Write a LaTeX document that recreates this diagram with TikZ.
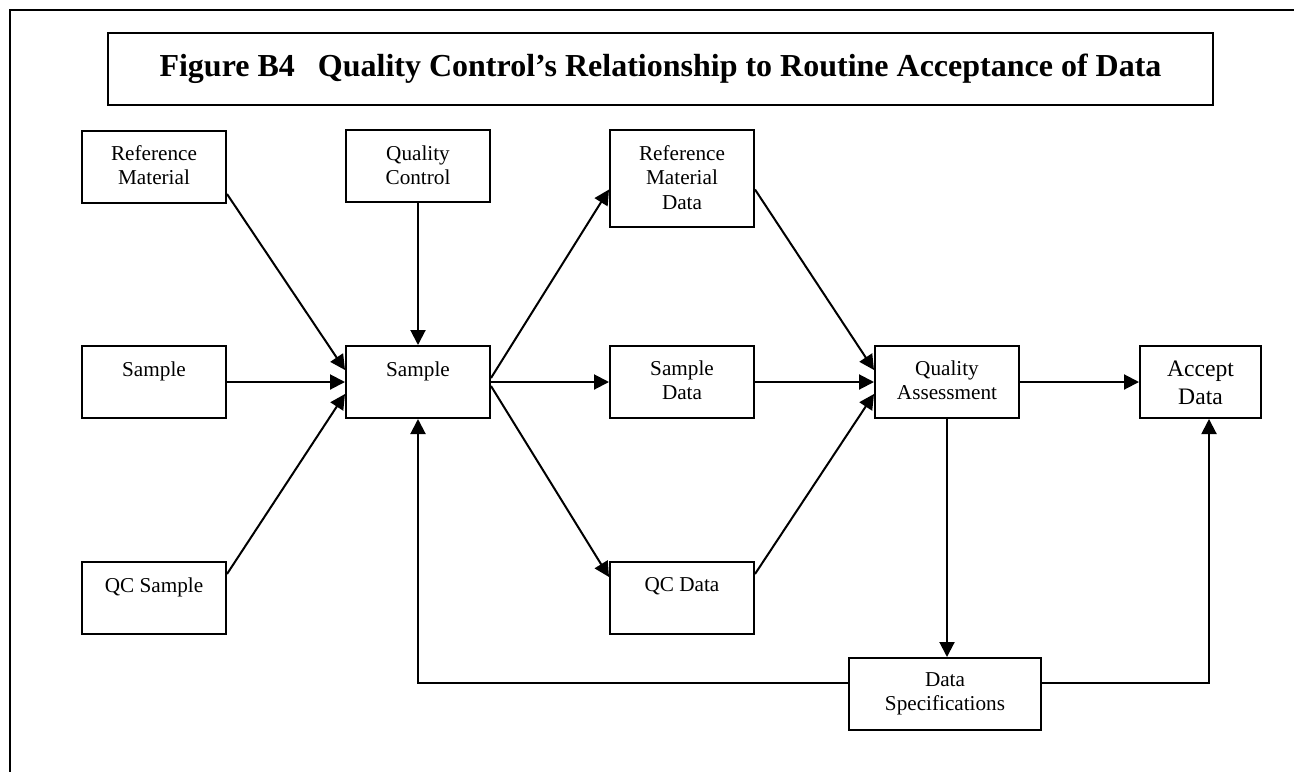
\documentclass[tikz,border=0pt]{standalone}
\usepackage{fontspec}
\setmainfont{Liberation Serif}
\usetikzlibrary{arrows.meta,calc}
\begin{document}
\begin{tikzpicture}[x=0.5pt,y=-0.5pt,
  box/.style={draw, line width=1pt, inner sep=0pt, anchor=north, minimum width=72pt, minimum height=36pt},
  txt/.style={inner sep=0pt, align=center, anchor=north, font=\fontsize{10.6pt}{12.3pt}\selectfont},
  arr/.style={line width=1pt, -{Triangle[length=7.5pt,width=7.5pt]}},
  ln/.style={line width=1pt}]
\useasboundingbox (0,0) rectangle (1294,771);
\draw[ln] (10,790) -- (10,10) -- (1300,10);

\node[draw, line width=1pt, inner sep=0pt, minimum width=552.5pt, minimum height=36pt,
  font=\bfseries\fontsize{16pt}{19pt}\selectfont] (title) at (660.5,69)
  {Figure B4\hspace{11.5pt}Quality Control’s Relationship to Routine Acceptance of Data};

% boxes
\node[box] (rm) at (154,130) {};
\node[txt] (rmt) at ($(rm.north)+(0,15)$) {Reference\\Material};
\node[box] (sl) at (154,345) {};
\node[txt] (slt) at ($(sl.north)+(0,16)$) {Sample};
\node[box] (qcs) at (154,561) {};
\node[txt] (qcst) at ($(qcs.north)+(0,16)$) {QC Sample};
\node[box] (qc) at (418,129) {};
\node[txt] (qct) at ($(qc.north)+(0,16)$) {Quality\\Control};
\node[box] (sc) at (418,345) {};
\node[txt] (sct) at ($(sc.north)+(0,16)$) {Sample};
\node[box, minimum height=48.5pt] (rmd) at (682,129) {};
\node[txt] (rmdt) at ($(rmd.north)+(0,16)$) {Reference\\Material\\Data};
\node[box] (sd) at (682,345) {};
\node[txt] (sdt) at ($(sd.north)+(0,15)$) {Sample\\Data};
\node[box] (qcd) at (682,561) {};
\node[txt] (qcdt) at ($(qcd.north)+(0,16)$) {QC Data};
\node[box] (qa) at (947,345) {};
\node[txt] (qat) at ($(qa.north)+(0,15)$) {Quality\\Assessment};
\node[box, minimum width=60.5pt] (ad) at (1200.5,345) {};
\node[txt, font=\fontsize{11.8pt}{14pt}\selectfont] (adt) at ($(ad.north)+(0,16)$) {Accept\\Data};
\node[box, minimum width=96pt] (ds) at (945,657) {};
\node[txt] (dst) at ($(ds.north)+(0,15)$) {Data\\Specifications};

% connectors
\draw[arr] ($(rm.east)+(0,27)$) -- ($(sc.west)+(0,-12)$);
\draw[arr] (sl.east) -- (sc.west);
\draw[arr] ($(qcs.east)+(0,-24)$) -- ($(sc.west)+(0,12)$);
\draw[arr] (qc.south) -- (sc.north);
\draw[arr] ($(sc.east)+(0,-4)$) -- ($(rmd.west)+(0,11)$);
\draw[arr] (sc.east) -- (sd.west);
\draw[arr] ($(sc.east)+(0,4)$) -- ($(qcd.west)+(0,-21)$);
\draw[arr] ($(rmd.east)+(0,11)$) -- ($(qa.west)+(0,-12)$);
\draw[arr] (sd.east) -- (qa.west);
\draw[arr] ($(qcd.east)+(0,-24)$) -- ($(qa.west)+(0,12)$);
\draw[arr] (qa.east) -- (ad.west);
\draw[arr] (qa.south) -- (qa.south |- ds.north);
\coordinate (fbl) at (418,683);
\coordinate (fbr) at (1209,683);
\draw[arr] (ds.west |- fbl) -- (fbl) -- (sc.south);
\draw[arr] (ds.east |- fbr) -- (fbr) -- (fbr |- ad.south);
\end{tikzpicture}
\end{document}
